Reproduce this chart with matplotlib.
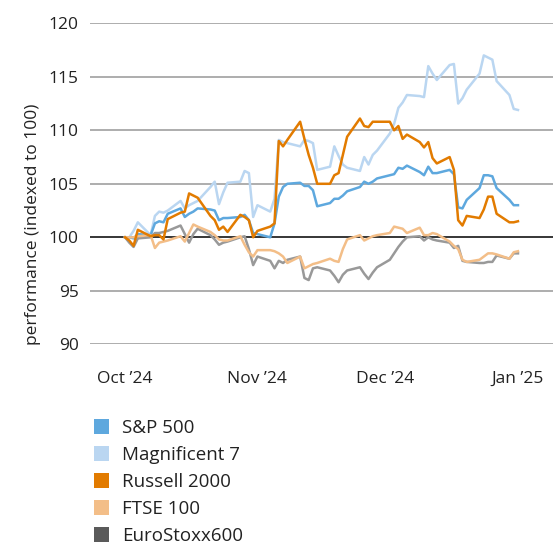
import pandas as pd
import matplotlib
matplotlib.use("Agg")
import matplotlib.pyplot as plt
from matplotlib.patches import Patch

plt.rcParams["font.family"] = ["Open Sans", "DejaVu Sans"]

dates = pd.bdate_range("2024-10-01", "2025-01-01")

sp500 = [
    100.0, 100.0, 99.9, 100.3,
    100.2, 101.3, 101.5, 101.4, 102.2,
    102.7, 101.9, 102.2, 102.4, 102.7,
    102.6, 102.5, 101.6, 101.8, 101.8,
    101.9, 102.1, 101.6, 100.4, 100.3,
    100.0, 101.3, 103.8, 104.7, 105.0,
    105.1, 104.8, 104.8, 104.4, 102.9,
    103.2, 103.6, 103.6, 103.9, 104.3,
    104.7, 105.2, 105.0, 105.2, 105.5,
    105.8, 105.9, 106.5, 106.4, 106.7,
    106.1, 105.8, 106.6, 106.0, 106.0,
    106.3, 105.9, 102.8, 102.7, 103.5,
    104.6, 105.8, 105.8, 105.7, 104.6,
    103.5, 103.0, 103.0,
]
mag7 = [
    100.0, 100.0, 100.6, 101.4,
    100.2, 102.0, 102.4, 102.3, 102.5,
    103.4, 102.7, 103.0, 103.2, 103.4,
    104.7, 105.2, 103.1, 104.2, 105.1,
    105.2, 106.2, 106.0, 101.9, 103.0,
    102.4, 103.6, 109.1, 108.9, 108.8,
    108.5, 109.1, 109.0, 108.8, 106.3,
    106.6, 108.5, 107.6, 106.8, 106.5,
    106.2, 107.5, 106.8, 107.7, 108.1,
    109.7, 110.6, 112.1, 112.6, 113.3,
    113.2, 113.1, 116.0, 115.3, 114.7,
    116.1, 116.2, 112.5, 113.0, 113.8,
    115.3, 117.0, 116.8, 116.6, 114.6,
    113.3, 112.0, 111.9,
]
russell = [
    100.0, 99.7, 99.2, 100.7,
    100.1, 100.2, 100.2, 99.8, 101.7,
    102.3, 102.4, 104.1, 103.9, 103.7,
    102.0, 101.6, 100.7, 101.0, 100.5,
    102.1, 101.9, 101.6, 100.0, 100.6,
    101.0, 101.3, 109.0, 108.5, 109.1,
    110.8, 109.2, 107.7, 106.5, 105.0,
    105.0, 105.8, 106.0, 107.7, 109.4,
    111.1, 110.4, 110.3, 110.8, 110.8,
    110.8, 110.0, 110.4, 109.2, 109.6,
    108.9, 108.4, 108.9, 107.4, 106.9,
    107.5, 106.3, 101.6, 101.1, 102.0,
    101.8, 102.6, 103.8, 103.8, 102.2,
    101.4, 101.4, 101.5,
]
ftse = [
    100.0, 100.0, 100.0, 100.1,
    100.2, 99.0, 99.5, 99.6, 99.7,
    100.1, 99.6, 100.4, 101.2, 101.0,
    100.5, 100.2, 99.8, 99.7, 99.7,
    100.1, 99.3, 98.6, 98.2, 98.8,
    98.8, 98.7, 98.5, 98.2, 97.6,
    98.2, 97.1, 97.3, 97.5, 97.6,
    98.0, 97.8, 97.7, 98.9, 99.8,
    100.2, 99.7, 99.9, 100.1, 100.2,
    100.4, 101.0, 100.9, 100.8, 100.4,
    100.9, 100.2, 100.2, 100.4, 100.3,
    99.6, 99.2, 98.9, 97.9, 97.7,
    97.9, 98.2, 98.5, 98.5, 98.4,
    98.0, 98.6, 98.7,
]
stoxx = [
    100.0, 99.5, 99.1, 99.9,
    100.0, 100.4, 100.4, 100.5, 100.6,
    101.1, 100.3, 99.5, 100.3, 100.8,
    100.2, 99.8, 99.3, 99.5, 99.6,
    100.0, 100.1, 98.9, 97.4, 98.2,
    97.8, 97.1, 97.8, 97.6, 97.9,
    98.2, 96.2, 96.0, 97.1, 97.2,
    96.9, 96.4, 95.8, 96.5, 96.9,
    97.2, 96.6, 96.1, 96.7, 97.2,
    97.9, 98.5, 99.1, 99.6, 100.0,
    100.1, 99.7, 100.0, 99.8, 99.7,
    99.5, 99.0, 99.2, 97.8, 97.7,
    97.6, 97.6, 97.7, 97.7, 98.3,
    98.0, 98.5, 98.5,
]

labels = ["S&P 500", "Magnificent 7", "Russell 2000", "FTSE 100", "EuroStoxx600"]
line_colors = ["#5ea8de", "#bad6f1", "#e27b00", "#f3be88", "#999999"]
legend_colors = ["#5ea8de", "#bad6f1", "#e27b00", "#f3be88", "#5a5a5a"]
yticks = [90, 95, 100, 105, 110, 115, 120]
xtick_dates = pd.to_datetime(["2024-10-01", "2024-11-01", "2024-12-01", "2025-01-01"])
xtick_labels = ["Oct \u201924", "Nov \u201924", "Dec \u201924", "Jan \u201925"]

fig = plt.figure(figsize=(5.54, 5.48), dpi=100)
ax = fig.add_axes([90 / 554, 1 - 344.3 / 548, 463 / 554, 321 / 548])

for y in yticks:
    if y == 100:
        ax.axhline(y, color="black", lw=1.1, zorder=1)
    else:
        ax.axhline(y, color="#a0a0a0", lw=1.2, zorder=1)

# draw order: Magnificent 7 at the back, Russell on top
order = [1, 0, 4, 3, 2]
series = [sp500, mag7, russell, ftse, stoxx]
for i in order:
    ax.plot(dates, series[i], color=line_colors[i], lw=1.8, zorder=3)

pad = pd.Timedelta(days=8.2)
ax.set_xlim(dates[0] - pad, dates[-1] + pad)
ax.set_ylim(90, 120)
ax.set_yticks(yticks)
ax.set_xticks(xtick_dates)
ax.set_xticklabels(xtick_labels)
for s in ax.spines.values():
    s.set_visible(False)
ax.tick_params(axis="both", length=0, labelsize=12.5, colors="#222222")
ax.tick_params(axis="y", pad=8)
ax.tick_params(axis="x", pad=19)

fig.text(33 / 554, 1 - 224 / 548, "performance (indexed to 100)", rotation=90,
         ha="center", va="center", fontsize=12.5, color="#222222")

handles = [Patch(facecolor=c, edgecolor="none") for c in legend_colors]
fig.legend(handles, labels, loc="upper left",
           bbox_to_anchor=(86 / 554, 1 - 411.5 / 548), frameon=False,
           fontsize=13.5, handlelength=0.8, handleheight=0.8,
           handletextpad=0.7, labelspacing=0.48, borderaxespad=0,
           labelcolor="#222222")

fig.savefig("out.png", dpi=100)
